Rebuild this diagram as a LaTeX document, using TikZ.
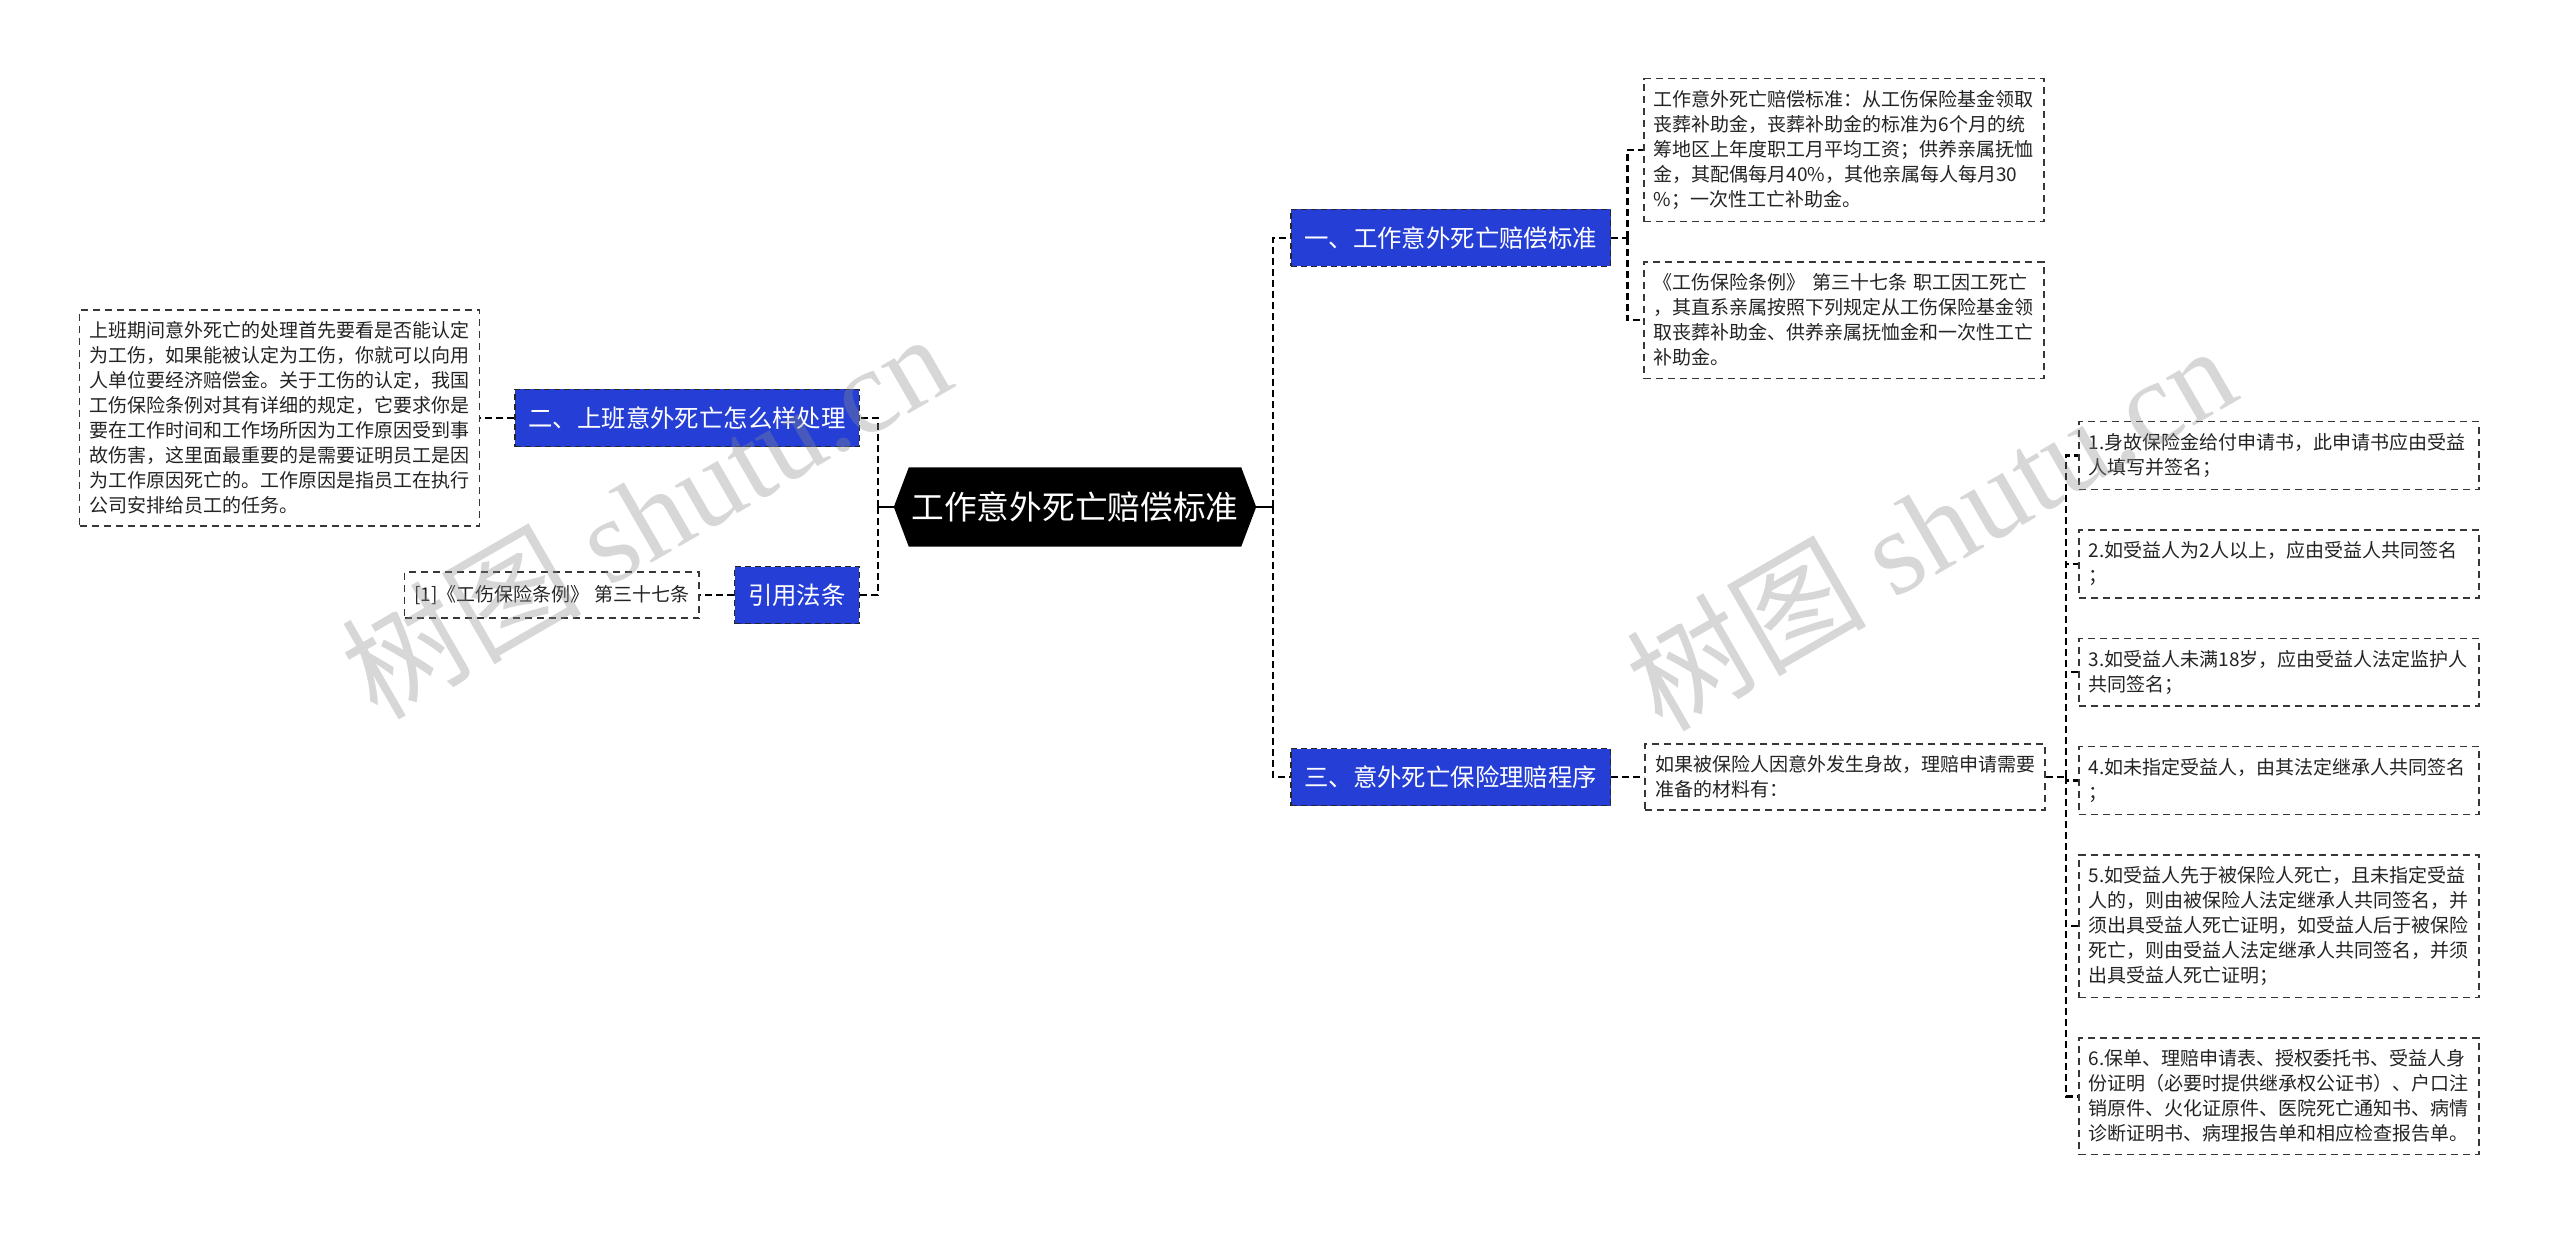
\documentclass[tikz,border=0pt]{standalone}
\usepackage{fontspec}
\setmainfont{Noto Sans CJK SC}
\newfontfamily\wmserif{Liberation Serif}
\usetikzlibrary{positioning,backgrounds}

\definecolor{branchblue}{RGB}{37,63,214}
\definecolor{leafline}{RGB}{55,55,55}
\definecolor{leaftext}{RGB}{35,35,35}

\begin{document}
\begin{tikzpicture}[
    x=1pt, y=1pt,
    node distance=39pt,
    root/.style={minimum width=362pt, minimum height=79pt, inner sep=0pt, text=white, font=\fontsize{32.7}{38}\selectfont},
    branch/.style={draw=black!85, dash pattern=on 6pt off 4pt, line width=1.5pt, fill=branchblue, text=white, minimum height=57pt, inner xsep=13.5pt, font=\fontsize{24.4}{29}\selectfont},
    leaf/.style={draw=leafline, dash pattern=on 7pt off 5pt, line width=1.5pt, text=leaftext, align=left, text width=380pt, inner xsep=10pt, inner ysep=11.8pt, font=\fontsize{19}{25}\selectfont},
    cite/.style={draw=leafline, dash pattern=on 7pt off 5pt, line width=1.5pt, text=leaftext, minimum height=46pt, inner xsep=10pt, font=\fontsize{19}{25}\selectfont},
    link/.style={draw=black, dash pattern=on 7pt off 4pt, line width=2.5pt},
    stem/.style={draw=black, line width=2pt},
    watermark/.style={rotate=30, text=black!45, text opacity=0.35, font=\fontsize{120}{130}\selectfont}
]
\useasboundingbox (0,0) rectangle (2560,-1238);

% centre
\node[root] (root) at (1075,-507) {工作意外死亡赔偿标准};
\begin{scope}[on background layer]
\fill[black] (root.west) -- ([xshift=15pt]root.north west) -- ([xshift=-15pt]root.north east)
    -- (root.east) -- ([xshift=-15pt]root.south east) -- ([xshift=15pt]root.south west) -- cycle;
\end{scope}

% right side
\node[branch, anchor=west] (b1) at (1290,-238) {一、工作意外死亡赔偿标准};
\node[branch, anchor=west] (b3) at (1290,-777) {三、意外死亡保险理赔程序};

\node[leaf, anchor=north west] (b1a) at (1643,-78) {工作意外死亡赔偿标准：从工伤保险基金领取\\丧葬补助金，丧葬补助金的标准为6个月的统\\筹地区上年度职工月平均工资；供养亲属抚恤\\金，其配偶每月40\%，其他亲属每人每月30\\\%；一次性工亡补助金。};
\node[leaf, below=of b1a] (b1b) {《工伤保险条例》 第三十七条 职工因工死亡\\，其直系亲属按照下列规定从工伤保险基金领\\取丧葬补助金、供养亲属抚恤金和一次性工亡\\补助金。};

\node[leaf, right=33pt of b3] (b3a) {如果被保险人因意外发生身故，理赔申请需要\\准备的材料有：};

\node[leaf, anchor=north west] (s1) at (2078,-421) {1.身故保险金给付申请书，此申请书应由受益\\人填写并签名；};
\node[leaf, below=of s1] (s2) {2.如受益人为2人以上，应由受益人共同签名\\；};
\node[leaf, below=of s2] (s3) {3.如受益人未满18岁，应由受益人法定监护人\\共同签名；};
\node[leaf, below=of s3] (s4) {4.如未指定受益人，由其法定继承人共同签名\\；};
\node[leaf, below=of s4] (s5) {5.如受益人先于被保险人死亡，且未指定受益\\人的，则由被保险人法定继承人共同签名，并\\须出具受益人死亡证明，如受益人后于被保险\\死亡，则由受益人法定继承人共同签名，并须\\出具受益人死亡证明；};
\node[leaf, below=of s5] (s6) {6.保单、理赔申请表、授权委托书、受益人身\\份证明（必要时提供继承权公证书）、户口注\\销原件、火化证原件、医院死亡通知书、病情\\诊断证明书、病理报告单和相应检查报告单。};

% left side
\node[branch, anchor=east] (b2) at (860,-418) {二、上班意外死亡怎么样处理};
\node[branch, anchor=east] (b4) at (860,-595) {引用法条};

\node[leaf, left=34pt of b2] (b2a) {上班期间意外死亡的处理首先要看是否能认定\\为工伤，如果能被认定为工伤，你就可以向用\\人单位要经济赔偿金。关于工伤的认定，我国\\工伤保险条例对其有详细的规定，它要求你是\\要在工作时间和工作场所因为工作原因受到事\\故伤害，这里面最重要的是需要证明员工是因\\为工作原因死亡的。工作原因是指员工在执行\\公司安排给员工的任务。};
\node[cite, left=34pt of b4] (b4a) {[1]《工伤保险条例》 第三十七条};

% connectors
\draw[stem] (root.east) -- ++(17,0) coordinate (rj);
\draw[link] (rj) |- (b1.west);
\draw[link] (rj) |- (b3.west);
\draw[stem] (root.west) -- ++(-16,0) coordinate (lj);
\draw[link] (lj) |- (b2.east);
\draw[link] (lj) |- (b4.east);

\draw[link] (b1.east) -- ++(16,0) coordinate (j1);
\draw[link] (j1) |- (b1a.west);
\draw[link] (j1) |- (b1b.west);

\draw[link] (b3.east) -- (b3a.west);
\draw[link] (b3a.east) -- ++(20,0) coordinate (j3);
\foreach \i in {1,...,6}
    \draw[link] (j3) |- (s\i.west);

\draw[link] (b2.west) -- (b2a.east);
\draw[link] (b4.west) -- (b4a.east);

% watermark
\node[watermark] (wm1) at (645,-514) {树图 {\wmserif shutu.cn}};
\node[watermark] (wm2) at (1930,-526) {树图 {\wmserif shutu.cn}};
\end{tikzpicture}
\end{document}
